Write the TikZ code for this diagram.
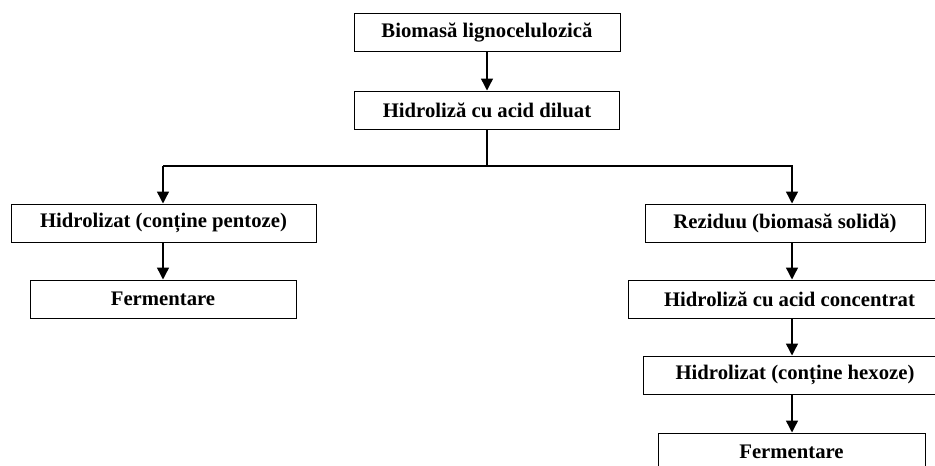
\documentclass[tikz,border=0pt]{standalone}
\usepackage{fontspec}
\setmainfont{Liberation Serif}
\usetikzlibrary{arrows.meta}
\begin{document}
\begin{tikzpicture}[x=1pt,y=-1pt,
  box/.style={draw=black,line width=1pt,inner sep=0pt,minimum height=38pt,font=\fontsize{20.7}{22}\selectfont\bfseries,anchor=center},
  arr/.style={line width=1.4pt,-{Triangle[length=12pt,width=12pt]}},
  ln/.style={line width=1.4pt}]
\useasboundingbox (0,0) rectangle (935,466);
\clip (0,0) rectangle (935,466);
\fill[white] (0,0) rectangle (935,466);
\node[box,minimum width=266pt] (b1) at (487,32.5) {Biomasă lignocelulozică};
\node[box,minimum width=265pt] (b2) at (487,110) {Hidroliză cu acid diluat};
\node[box,minimum width=305pt] (b3) at (163.5,223) {Hidrolizat (conține pentoze)};
\node[box,minimum width=266pt] (b4) at (163,299) {Fermentare};
\node[box,minimum width=280pt] (b5) at (785,223) {Reziduu (biomasă solidă)};
\node[box,minimum width=323pt] (b6) at (789.5,299) {Hidroliză cu acid concentrat};
\node[box,minimum width=304pt] (b7) at (795,375) {Hidrolizat (conține hexoze)};
\node[box,minimum width=267pt] (b8) at (791.5,452) {Fermentare};
\coordinate (xl) at (163,0);
\coordinate (xr) at (792,0);
\coordinate (jy) at (0,166);
\draw[arr] (b1) -- (b2);
\draw[ln] (b2.south) -- (b2.south |- jy);
\draw[arr] (xl |- jy) -- (xr |- jy) -- (b5.north -| xr);
\draw[arr] (xl |- jy) -- (b3.north -| xl);
\draw[arr] (b3.south -| xl) -- (b4.north -| xl);
\draw[arr] (b5.south -| xr) -- (b6.north -| xr);
\draw[arr] (b6.south -| xr) -- (b7.north -| xr);
\draw[arr] (b7.south -| xr) -- (b8.north -| xr);
\end{tikzpicture}
\end{document}
